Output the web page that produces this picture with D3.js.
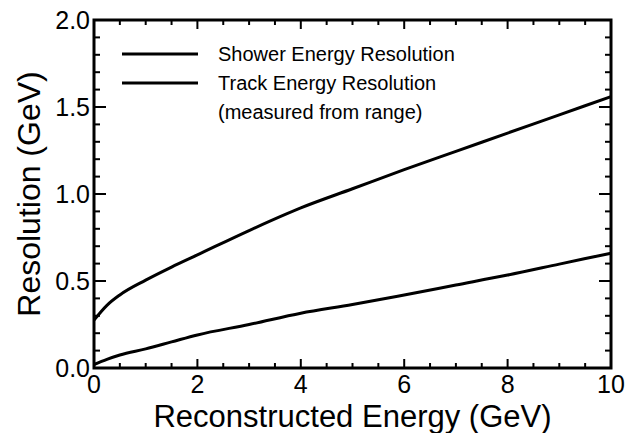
<!DOCTYPE html>
<html><head><meta charset="utf-8">
<script src="https://cdn.jsdelivr.net/npm/d3@7"></script>
<style>body{margin:0;background:#fff}svg{display:block}text{font-family:Arial,"Liberation Sans",sans-serif;fill:#000}</style>
</head><body><svg id="c" width="625" height="433"></svg>
<script>
const energy = [0, 0.25, 0.5, 1, 1.5, 2, 3, 4, 5, 6, 7, 8, 9, 10];
const showerRes = [0.275, 0.36, 0.42, 0.505, 0.58, 0.65, 0.79, 0.92, 1.03, 1.14, 1.245, 1.35, 1.455, 1.56];
const trackRes = [0.02, 0.05, 0.075, 0.11, 0.15, 0.19, 0.25, 0.315, 0.365, 0.42, 0.477, 0.534, 0.597, 0.66];
const xTicks = [0, 2, 4, 6, 8, 10];
const yTicks = [0, 0.5, 1.0, 1.5, 2.0];
const legendLabels = ["Shower Energy Resolution", "Track Energy Resolution", "(measured from range)"];

const svg = d3.select("#c");
const L = 94, R = 611, T = 20, B = 368;
const x = d3.scaleLinear().domain([0, 10]).range([L, R]);
const y = d3.scaleLinear().domain([0, 2]).range([B, T]);

const xMinor = d3.range(0, 10.001, 0.5).filter(v => Math.abs(v % 2) > 1e-6);
const yMinor = d3.range(0, 2.001, 0.1).filter(v => Math.abs((v * 10) % 5) > 1e-6 && Math.abs((v*10)%5 - 5) > 1e-6);

const g = svg.append("g").attr("stroke", "#000").attr("stroke-width", 2);
xTicks.forEach(v => {
  g.append("line").attr("x1", x(v)).attr("x2", x(v)).attr("y1", B).attr("y2", B - 9);
  g.append("line").attr("x1", x(v)).attr("x2", x(v)).attr("y1", T).attr("y2", T + 9);
});
xMinor.forEach(v => {
  g.append("line").attr("x1", x(v)).attr("x2", x(v)).attr("y1", B).attr("y2", B - 5);
  g.append("line").attr("x1", x(v)).attr("x2", x(v)).attr("y1", T).attr("y2", T + 5);
});
yTicks.forEach(v => {
  g.append("line").attr("x1", L).attr("x2", L + 12).attr("y1", y(v)).attr("y2", y(v));
  g.append("line").attr("x1", R).attr("x2", R - 12).attr("y1", y(v)).attr("y2", y(v));
});
yMinor.forEach(v => {
  g.append("line").attr("x1", L).attr("x2", L + 6).attr("y1", y(v)).attr("y2", y(v));
  g.append("line").attr("x1", R).attr("x2", R - 6).attr("y1", y(v)).attr("y2", y(v));
});
svg.append("rect").attr("x", L).attr("y", T).attr("width", R - L).attr("height", B - T)
  .attr("fill", "none").attr("stroke", "#000").attr("stroke-width", 3);

xTicks.forEach(v => {
  svg.append("text").attr("x", x(v)).attr("y", 393).attr("text-anchor", "middle")
    .attr("font-size", 25).text(d3.format("d")(v));
});
yTicks.forEach(v => {
  svg.append("text").attr("x", 90).attr("y", y(v) + 9).attr("text-anchor", "end")
    .attr("font-size", 25).text(d3.format(".1f")(v));
});

svg.append("text").attr("x", (L + R) / 2).attr("y", 427).attr("text-anchor", "middle")
  .attr("font-size", 31).text("Reconstructed Energy (GeV)");
svg.append("text").attr("transform", `translate(40,${(T + B) / 2}) rotate(-90)`)
  .attr("text-anchor", "middle").attr("font-size", 32).text("Resolution (GeV)");

const line = d3.line().x((d, i) => x(energy[i])).y(d => y(d)).curve(d3.curveMonotoneX);
[showerRes, trackRes].forEach(s => {
  svg.append("path").attr("d", line(s)).attr("fill", "none").attr("stroke", "#000").attr("stroke-width", 3);
});

const legY = [54, 83, 112];
[0, 1].forEach(i => {
  svg.append("line").attr("x1", 122).attr("x2", 198).attr("y1", legY[i]).attr("y2", legY[i])
    .attr("stroke", "#000").attr("stroke-width", 3);
});
legendLabels.forEach((t, i) => {
  svg.append("text").attr("x", 218).attr("y", legY[i] + 7).attr("font-size", 20).text(t);
});
</script></body></html>
